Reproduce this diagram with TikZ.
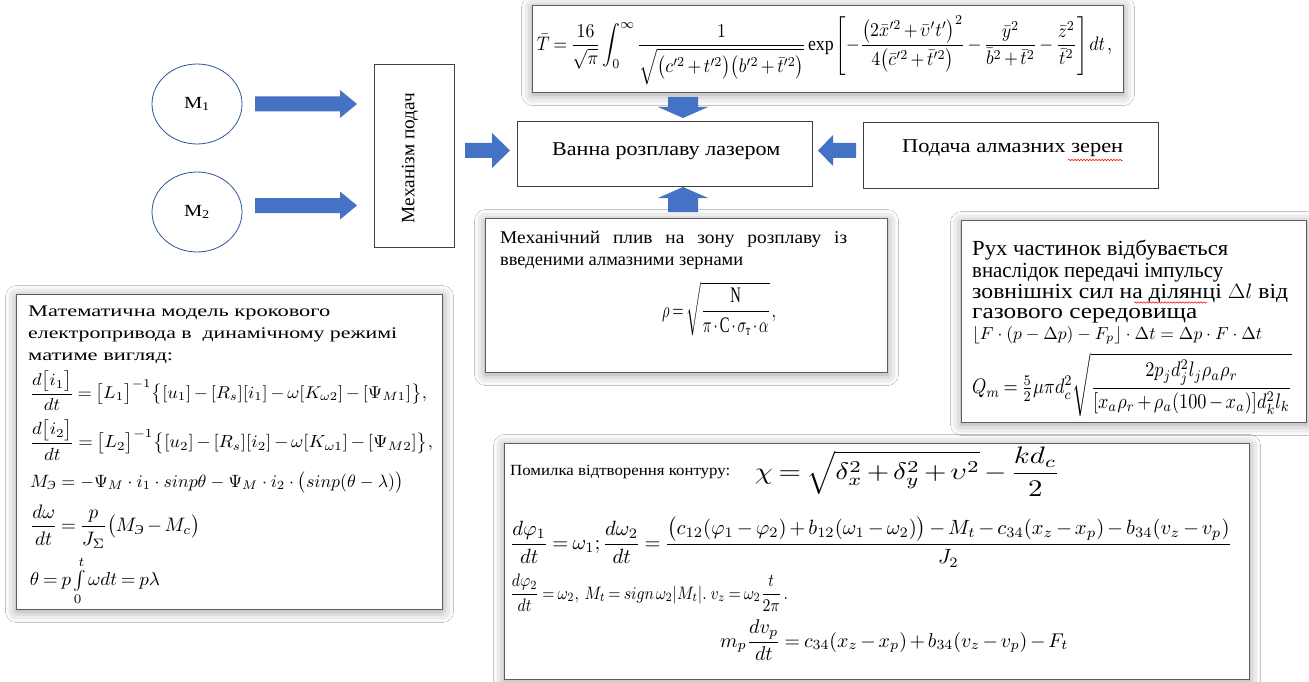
\documentclass[tikz,border=0pt]{standalone}
\usepackage{amsmath}
\usepackage{fontspec}
\setmainfont{Liberation Serif}
\usetikzlibrary{shapes.geometric,shadows.blur,decorations.pathmorphing}
\definecolor{arrowblue}{HTML}{4472C4}
\definecolor{circblue}{HTML}{2F5597}
\definecolor{boxgray}{HTML}{404040}
\newcommand{\fitw}[2]{\resizebox{#1}{\height}{#2}}
\newcommand{\fitasp}[2]{\resizebox{#1}{!}{#2}}
\newcommand{\fitwh}[3]{\resizebox*{#1}{#2}{#3}}
\newcommand{\tightmath}{\medmuskip=2.5mu\thickmuskip=3.5mu\thinmuskip=2mu\relax}
\tikzset{
  plainbox/.style={draw=boxgray, line width=0.8pt, fill=white, anchor=north west, inner sep=0pt},
  shadowbox/.style={draw=boxgray!85, line width=1pt, fill=white, anchor=north west, inner sep=0pt,
    blur shadow={shadow xshift=0pt, shadow yshift=-2pt, shadow blur radius=11pt, shadow opacity=40}},
  motor/.style={ellipse, draw=circblue, line width=0.8pt, minimum width=90pt, minimum height=80pt,
    inner sep=0pt, font=\fontsize{17}{17}\selectfont},
  blockarrow/.style={fill=arrowblue},
  txt/.style={anchor=base west, inner sep=0pt},
  fml/.style={inner sep=0pt},
  squiggle/.style={draw=red, line width=0.5pt, decorate, decoration={snake, amplitude=0.7pt, segment length=3pt}}
}
\begin{document}
\begin{tikzpicture}[x=1pt,y=-1pt]
\useasboundingbox[fill=white] (0,0) rectangle (1309,682);

% ---------- shadowed formula boxes ----------
\node[shadowbox, minimum width=591pt, minimum height=87pt] (topbox) at (532,5) {};
\node[shadowbox, minimum width=402pt, minimum height=154pt] (midbox) at (485,218) {};
\node[shadowbox, minimum width=345pt, minimum height=202pt] (rightbox) at (961,220) {};
\node[shadowbox, minimum width=426pt, minimum height=315pt] (leftbox) at (16,294) {};
\node[shadowbox, minimum width=745pt, minimum height=236pt] (botbox) at (504,443) {};

% ---------- plain boxes ----------
\node[plainbox, minimum width=80pt, minimum height=183pt] (mech) at (374,64) {};
\node[plainbox, minimum width=295pt, minimum height=65pt] (vanna) at (517,121) {};
\node[plainbox, minimum width=295pt, minimum height=66pt] (podacha) at (863,122) {};

% ---------- motors ----------
\node[motor] (m1) at (197,104) {\fitw{26pt}{M\textsubscript{1}}};
\node[motor] (m2) at (197,212) {\fitw{26pt}{M\textsubscript{2}}};

% ---------- block arrows ----------
\fill[blockarrow] (255,96.5) -- (340,96.5) -- (340,90) -- (357,104) -- (340,118) -- (340,111.5) -- (255,111.5) -- cycle;
\fill[blockarrow] (255,198) -- (340,198) -- (340,191.5) -- (357,205.5) -- (340,219.5) -- (340,213) -- (255,213) -- cycle;
\fill[blockarrow] (465,143) -- (492,143) -- (492,133) -- (510,150.5) -- (492,168) -- (492,158) -- (465,158) -- cycle;
\fill[blockarrow] (856,143) -- (833,143) -- (833,135) -- (818,150.5) -- (833,166) -- (833,158) -- (856,158) -- cycle;
\fill[blockarrow] (668,97) -- (698,97) -- (698,107) -- (708,107) -- (683,118) -- (658,107) -- (668,107) -- cycle;
\fill[blockarrow] (668,212) -- (698,212) -- (698,198) -- (708,198) -- (683,187) -- (658,198) -- (668,198) -- cycle;

% ---------- box texts ----------
\node[rotate=90, inner sep=0pt, font=\fontsize{19}{19}\selectfont] (mechtxt) at (410,158) {\fitw{130pt}{Механізм подач}};
\node[txt, font=\fontsize{19.5}{19.5}\selectfont] (vannatxt) at (552,155) {\fitw{228pt}{Ванна розплаву лазером}};
\node[txt, font=\fontsize{19.5}{19.5}\selectfont] (podtxt) at (902,152) {\fitw{221pt}{Подача алмазних зерен}};
\draw[squiggle] (1068,160) -- (1123,160);

% ---------- top formula ----------
\node[fml] (topf) at (824.5,50) {\fitwh{575pt}{69pt}{$\tightmath\displaystyle
\bar{T}=\frac{16}{\sqrt{\pi}}\int_0^{\infty}\frac{1}{\sqrt{\bigl(c'^2+t'^2\bigr)\bigl(b'^2+\bar t'^2\bigr)}}\,\mathrm{exp}\left[-\frac{\left(2\bar{x}'^2+\bar\upsilon' t'\right)^2}{4\bigl(\bar c'^2+\bar t'^2\bigr)}-\frac{\bar y^2}{\bar b^2+\bar t^2}-\frac{\bar z^2}{\bar t^2}\right]dt\,,$}};

% ---------- middle box ----------
\node[txt, font=\fontsize{18}{18}\selectfont] (midt1) at (500,243) {\fitw{347pt}{\makebox[322pt][s]{Механічний плив на зону розплаву із}}};
\node[txt, font=\fontsize{18}{18}\selectfont] (midt2) at (500,265) {\fitw{243pt}{введеними алмазними зернами}};
\node[fml] (rho) at (719,309) {\fitwh{114pt}{54pt}{$\tightmath\displaystyle \rho=\sqrt{\frac{\mathrm{N}}{\pi\cdot\mathrm{C}\cdot\sigma_{\text{т}}\cdot\alpha}}\,,$}};

% ---------- right box ----------
\node[txt, font=\fontsize{21.5}{21.5}\selectfont] (rt1) at (972,255) {\fitw{256pt}{Рух частинок відбувається}};
\node[txt, font=\fontsize{21.5}{21.5}\selectfont] (rt2) at (972,277) {\fitw{251pt}{внаслідок передачі імпульсу}};
\node[txt, font=\fontsize{21.5}{21.5}\selectfont] (rt3) at (972,298) {\fitw{316pt}{зовнішніх сил на ділянці $\Delta l$ від}};
\node[txt, font=\fontsize{21.5}{21.5}\selectfont] (rt4) at (972,318) {\fitw{225pt}{газового середовища}};
\draw[squiggle] (1134,302.5) -- (1207,302.5);
\node[txt] (rf1) at (972,339) {\fitasp{290pt}{$\lfloor F\cdot(p-\Delta p)-F_p\rfloor\cdot\Delta t=\Delta p\cdot F\cdot\Delta t$}};
\node[fml] (qm) at (1132,385) {\fitwh{320pt}{64pt}{$\tightmath\displaystyle Q_m=\tfrac{5}{2}\mu\pi d_c^2\sqrt{\frac{2p_jd_j^2l_j\rho_a\rho_r}{[x_a\rho_r+\rho_a(100-x_a)]d_k^2l_k}}$}};

% ---------- left box ----------
\begin{scope}
\clip (16,294) rectangle (442,609);
\node[txt, font=\fontsize{16.2}{16.2}\selectfont] (lt1) at (28,316) {\fitw{302pt}{Математична модель крокового}};
\node[txt, font=\fontsize{16.2}{16.2}\selectfont] (lt2) at (28,338) {\fitw{369pt}{електропривода в~ динамічному режимі}};
\node[txt, font=\fontsize{16.2}{16.2}\selectfont] (lt3) at (28,360) {\fitw{145pt}{матиме вигляд:}};
\node[fml] (eq1) at (228.5,390.5) {\fitwh{397pt}{39pt}{$\tightmath\displaystyle \frac{d\bigl[i_1\bigr]}{dt}=\bigl[L_1\bigr]^{-1}\bigl\{[u_1]-[R_s][i_1]-\omega[K_{\omega2}]-[\Psi_{M1}]\bigr\},$}};
\node[fml] (eq2) at (231.5,440) {\fitwh{403pt}{40pt}{$\tightmath\displaystyle \frac{d\bigl[i_2\bigr]}{dt}=\bigl[L_2\bigr]^{-1}\bigl\{[u_2]-[R_s][i_2]-\omega[K_{\omega1}]-[\Psi_{M2}]\bigr\},$}};
\node[txt] (eq3) at (30,487) {\fitasp{373pt}{$M_{\text{\itshape Э}}=-\Psi_M\cdot i_1\cdot sinp\theta-\Psi_M\cdot i_2\cdot\bigl(sinp(\theta-\lambda)\bigr)$}};
\node[fml] (eq4) at (115,526.5) {\fitwh{170pt}{43pt}{$\tightmath\displaystyle \frac{d\omega}{dt}=\frac{p}{J_{\Sigma}}\bigl(M_{\text{\itshape Э}}-M_c\bigr)$}};
\node[fml] (eq5) at (95,581) {\fitwh{130pt}{48pt}{$\tightmath\theta=p\int\limits_0^t\omega dt=p\lambda$}};
\end{scope}

% ---------- bottom right box ----------
\begin{scope}
\clip (504,443) rectangle (1249,679);
\node[txt, font=\fontsize{15.5}{15.5}\selectfont] (bt1) at (510,475) {\fitw{220pt}{Помилка відтворення контуру:}};
\node[fml] (chi) at (907.5,471.5) {\fitwh{305pt}{49pt}{$\tightmath\displaystyle \chi=\sqrt{\delta_x^2+\delta_y^2+\upsilon^2}-\frac{kd_c}{2}$}};
\node[fml] (beq1) at (871,542) {\fitwh{722pt}{50pt}{$\tightmath\displaystyle \frac{d\varphi_1}{dt}=\omega_1;\frac{d\omega_2}{dt}=\frac{\bigl(c_{12}(\varphi_1-\varphi_2)+b_{12}(\omega_1-\omega_2)\bigr)-M_t-c_{34}(x_z-x_p)-b_{34}(v_z-v_p)}{J_2}$}};
\node[fml] (beq2) at (649,593) {\fitwh{278pt}{37pt}{$\tightmath\displaystyle \frac{d\varphi_2}{dt}=\omega_2,\ M_t=sign\,\omega_2|M_t|.\ v_z=\omega_2\frac{t}{2\pi}\,.$}};
\node[txt] (beq3) at (720,647) {\fitasp{348pt}{$\tightmath\displaystyle m_p\frac{dv_p}{dt}=c_{34}(x_z-x_p)+b_{34}(v_z-v_p)-F_t$}};
\end{scope}
\end{tikzpicture}
\end{document}
